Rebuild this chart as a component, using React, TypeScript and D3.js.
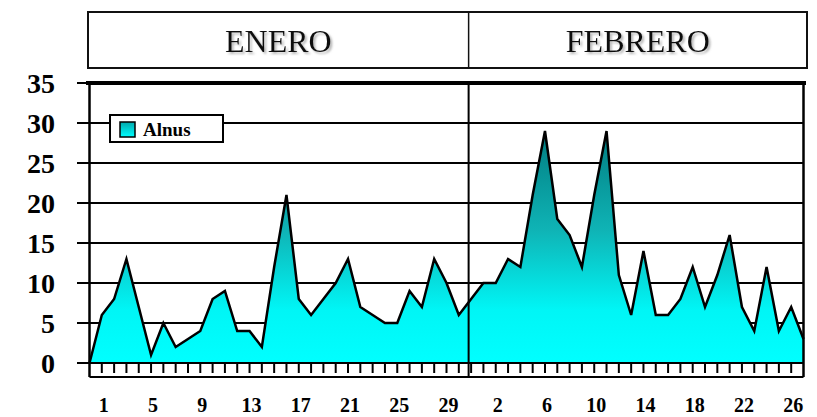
import React from "react";
import * as d3 from "d3";

// ---- data (Alnus pollen, daily) ----
const leadIn: number[] = [0];
const janDays: number[] = d3.range(1, 32);
const janValues: number[] = [6, 8, 13, 7, 1, 5, 2, 3, 4, 8, 9, 4, 4, 2, 12, 21, 8, 6, 8, 10, 13, 7, 6, 5, 5, 9, 7, 13, 10, 6, 8];
const febDays: number[] = d3.range(1, 28);
const febValues: number[] = [10, 10, 13, 12, 21, 29, 18, 16, 12, 21, 29, 11, 6, 14, 6, 6, 8, 12, 7, 11, 16, 7, 4, 12, 4, 7, 3];
const janTickLabels: number[] = [1, 5, 9, 13, 17, 21, 25, 29];
const febTickLabels: number[] = [2, 6, 10, 14, 18, 22, 26];
const yTicks: number[] = [0, 5, 10, 15, 20, 25, 30, 35];
const months: string[] = ["ENERO", "FEBRERO"];
const seriesName = "Alnus";

const W = 817, H = 417;
const plot = { left: 89.5, right: 803.5, top: 83, bottom: 363 };

export default function App() {
  const series: { i: number; v: number }[] = [
    ...leadIn.map((v, k) => ({ i: k - leadIn.length, v })),
    ...janValues.map((v, k) => ({ i: k, v })),
    ...febValues.map((v, k) => ({ i: janValues.length + k, v })),
  ];
  const lastIdx = janValues.length + febValues.length - 1;
  const x = d3.scaleLinear().domain([-1, lastIdx]).range([plot.left, plot.right]);
  const y = d3.scaleLinear().domain([0, 35]).range([plot.bottom, plot.top]);

  const area = d3.area<{ i: number; v: number }>().x(d => x(d.i)).y0(y(0)).y1(d => y(d.v));
  const line = d3.line<{ i: number; v: number }>().x(d => x(d.i)).y(d => y(d.v));

  const janIdx = (d: number) => janDays.indexOf(d);
  const febIdx = (d: number) => janValues.length + febDays.indexOf(d);
  const dividerX = x(janValues.length - 1) - 2.5;
  const tickIdx = d3.range(0, lastIdx);
  const axisBottom = 377;

  const headerTop = 12, headerBottom = 68;
  const headerLeft = 88, headerRight = 807;
  const headerCenters = [(headerLeft + dividerX) / 2, (dividerX + headerRight) / 2];

  const serif = "'Liberation Serif', 'Times New Roman', serif";

  return (
    <svg width={W} height={H} style={{ position: "absolute", left: 0, top: 0, background: "#fff" }}>
      <defs>
        <linearGradient id="areaGrad" gradientUnits="userSpaceOnUse" x1={0} x2={0} y1={y(0)} y2={y(30)}>
          <stop offset="0" stopColor="#00FFFF" />
          <stop offset="0.22" stopColor="#00F6F6" />
          <stop offset="0.55" stopColor="#0FB4B6" />
          <stop offset="1" stopColor="#00787C" />
        </linearGradient>
        <linearGradient id="legGrad" x1={0} x2={0} y1={1} y2={0}>
          <stop offset="0" stopColor="#00FFFF" />
          <stop offset="1" stopColor="#00A8AC" />
        </linearGradient>
        <filter id="txtShadow" x="-10%" y="-20%" width="130%" height="150%">
          <feDropShadow dx={2} dy={2} stdDeviation={1} floodColor="#888" floodOpacity={0.6} />
        </filter>
      </defs>
      <rect width={W} height={H} fill="#fff" />

      {/* header */}
      <rect x={headerLeft} y={headerTop} width={headerRight - headerLeft} height={headerBottom - headerTop}
        fill="#fff" stroke="#111" strokeWidth={2} />
      <line x1={dividerX} x2={dividerX} y1={headerTop} y2={headerBottom} stroke="#111" strokeWidth={1.5} />
      {months.map((m, k) => (
        <text key={m} x={headerCenters[k]} y={52} textAnchor="middle" fontFamily={serif} fontSize={32}
          fill="#111" filter="url(#txtShadow)">{m}</text>
      ))}

      {/* gridlines */}
      {yTicks.filter(t => t > 0).map(t => (
        <line key={t} x1={plot.left} x2={plot.right} y1={y(t)} y2={y(t)} stroke="#000" strokeWidth={2} />
      ))}

      {/* legend */}
      <rect x={110} y={115} width={113} height={27} fill="#fff" stroke="#000" strokeWidth={2} />
      <rect x={120} y={122} width={15} height={15} fill="url(#legGrad)" stroke="#000" strokeWidth={1.5} />
      <text x={143} y={136} fontFamily={serif} fontWeight="bold" fontSize={19} fill="#000">{seriesName}</text>

      {/* area */}
      <path d={area(series) || ""} fill="url(#areaGrad)" />
      <path d={line(series) || ""} fill="none" stroke="#000" strokeWidth={2.5} strokeLinejoin="miter" />

      {/* frame */}
      <line x1={86} x2={806} y1={plot.top} y2={plot.top} stroke="#000" strokeWidth={4} />
      <line x1={plot.left} x2={plot.left} y1={plot.top} y2={axisBottom} stroke="#000" strokeWidth={2.5} />
      <line x1={plot.right} x2={plot.right} y1={plot.top} y2={axisBottom} stroke="#000" strokeWidth={2.5} />
      <line x1={dividerX} x2={dividerX} y1={plot.top} y2={axisBottom} stroke="#000" strokeWidth={2} />
      <line x1={plot.left} x2={plot.right} y1={y(0)} y2={y(0)} stroke="#000" strokeWidth={2} />
      <line x1={plot.left} x2={plot.right} y1={axisBottom} y2={axisBottom} stroke="#000" strokeWidth={2} />

      {/* x tick marks */}
      {tickIdx.map(i => (
        <line key={i} x1={x(i)} x2={x(i)} y1={y(0)} y2={y(0) + 10} stroke="#000" strokeWidth={2} />
      ))}

      {/* y ticks and labels */}
      {yTicks.map(t => (
        <g key={t}>
          <line x1={77} x2={plot.left} y1={y(t)} y2={y(t)} stroke="#000" strokeWidth={2} />
          <text x={55} y={y(t)} dy="0.35em" textAnchor="end" fontFamily={serif} fontWeight="bold"
            fontSize={28} fill="#000">{t}</text>
        </g>
      ))}

      {/* x labels */}
      {janTickLabels.map(d => (
        <text key={"j" + d} x={x(janIdx(d)) + 2} y={412} textAnchor="middle" fontFamily={serif}
          fontWeight="bold" fontSize={20} fill="#000">{d}</text>
      ))}
      {febTickLabels.map(d => (
        <text key={"f" + d} x={x(febIdx(d)) + 2} y={412} textAnchor="middle" fontFamily={serif}
          fontWeight="bold" fontSize={20} fill="#000">{d}</text>
      ))}
    </svg>
  );
}
